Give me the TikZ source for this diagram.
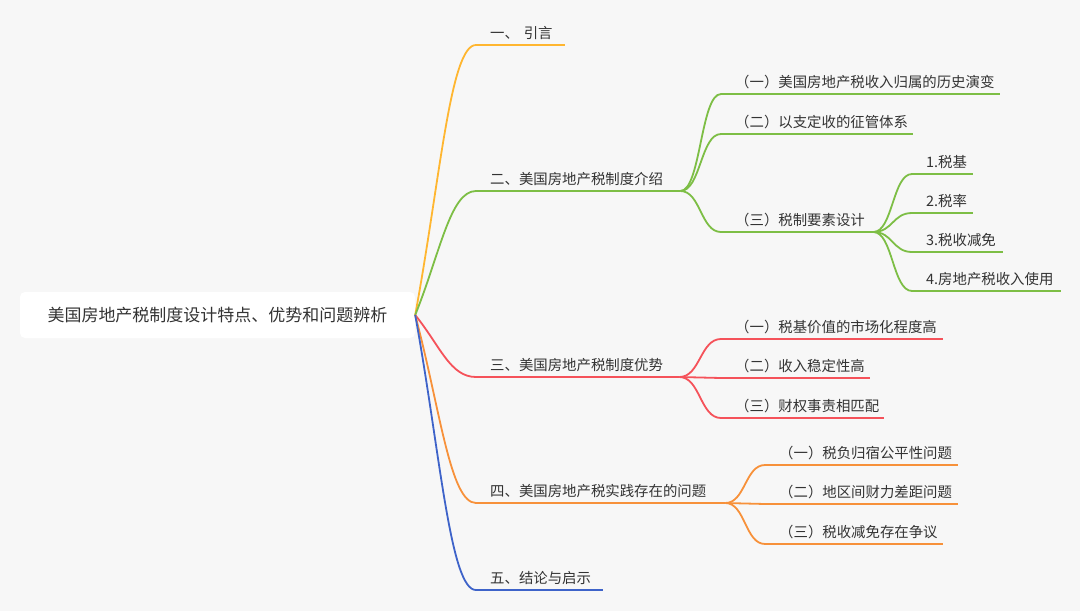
\documentclass[tikz,border=0pt]{standalone}
\usepackage{fontspec}
\newfontfamily\cjk{Noto Sans CJK SC}
\usetikzlibrary{calc}
\setlength{\parindent}{0pt}

\definecolor{bgcol}{HTML}{F7F7F7}
\definecolor{txtcol}{HTML}{333333}
\definecolor{cyel}{HTML}{FFB630}
\definecolor{cgrn}{HTML}{7DBE45}
\definecolor{cred}{HTML}{F5525A}
\definecolor{corg}{HTML}{F7913A}
\definecolor{cblu}{HTML}{3E63C9}

\tikzset{
  rootbox/.style={fill=white,rounded corners=5pt,minimum width=395,minimum height=46,
    font=\cjk\fontsize{17}{20}\selectfont,text=txtcol},
  topic/.style n args={2}{anchor=south west,inner xsep=0pt,inner ysep=6pt,text depth=0pt,
    text width=#2,align=left,font=\cjk\fontsize{14.4}{17}\selectfont,text=txtcol,
    execute at begin node={\hspace*{14pt}},
    append after command={(\tikzlastnode.south west) edge[draw=#1,line width=1.8pt] (\tikzlastnode.south east)}},
  trunk/.style={draw=#1,line width=1.8pt,
    to path={let \p1=(\tikztostart),\p2=(\tikztotarget) in
      .. controls (\x1+25pt,{0.5*\y1+0.5*\y2}) and (\x1+35pt,\y2) .. (\tikztotarget)}},
  twig/.style={draw=#1,line width=1.8pt,
    to path={let \p1=(\tikztostart),\p2=(\tikztotarget) in
      .. controls ({0.5*\x1+0.5*\x2},\y1) and ({0.5*\x1+0.5*\x2},\y2) .. (\tikztotarget)}}
}

\begin{document}
\begin{tikzpicture}[x=1pt,y=-1pt]
\fill[bgcol] (0,0) rectangle (1080,611);
\useasboundingbox (0,0) rectangle (1080,611);

\node[rootbox] (root) at (217.5,315) {美国房地产税制度设计特点、优势和问题辨析};

% level 1
\node[topic={cyel}{89}] (intro) at (476,45) {一、 引言};
\node[topic={cgrn}{204}] (sys) at (476,191) {二、美国房地产税制度介绍};
\node[topic={cred}{203}] (adv) at (476,377) {三、美国房地产税制度优势};
\node[topic={corg}{249}] (prob) at (476,503) {四、美国房地产税实践存在的问题};
\node[topic={cblu}{127}] (concl) at (476,590) {五、结论与启示};

% green
\node[topic={cgrn}{279}] (sys1) at (721,94) {（一）美国房地产税收入归属的历史演变};
\node[topic={cgrn}{192}] (sys2) at (721,134) {（二）以支定收的征管体系};
\node[topic={cgrn}{152}] (sys3) at (721,232) {（三）税制要素设计};
\node[topic={cgrn}{61}] (elem1) at (912,174) {1.税基};
\node[topic={cgrn}{61}] (elem2) at (912,213) {2.税率};
\node[topic={cgrn}{91}] (elem3) at (912,252) {3.税收减免};
\node[topic={cgrn}{149}] (elem4) at (912,291) {4.房地产税收入使用};

% red
\node[topic={cred}{222}] (adv1) at (721,339) {（一）税基价值的市场化程度高};
\node[topic={cred}{149}] (adv2) at (721,378) {（二）收入稳定性高};
\node[topic={cred}{163}] (adv3) at (721,418) {（三）财权事责相匹配};

% orange
\node[topic={corg}{193}] (prob1) at (765,465) {（一）税负归宿公平性问题};
\node[topic={corg}{193}] (prob2) at (765,504) {（二）地区间财力差距问题};
\node[topic={corg}{178}] (prob3) at (765,544) {（三）税收减免存在争议};

\path
(root.east) edge[trunk=cyel] (intro.south west)
	edge[trunk=cgrn] (sys.south west)
	edge[trunk=cred] (adv.south west)
	edge[trunk=corg] (prob.south west)
	edge[trunk=cblu] (concl.south west)
(sys.south east) edge[twig=cgrn] (sys1.south west)
	edge[twig=cgrn] (sys2.south west)
	edge[twig=cgrn] (sys3.south west)
(sys3.south east) edge[twig=cgrn] (elem1.south west)
	edge[twig=cgrn] (elem2.south west)
	edge[twig=cgrn] (elem3.south west)
	edge[twig=cgrn] (elem4.south west)
(adv.south east) edge[twig=cred] (adv1.south west)
	edge[twig=cred] (adv2.south west)
	edge[twig=cred] (adv3.south west)
(prob.south east) edge[twig=corg] (prob1.south west)
	edge[twig=corg] (prob2.south west)
	edge[twig=corg] (prob3.south west)
;
\end{tikzpicture}
\end{document}
